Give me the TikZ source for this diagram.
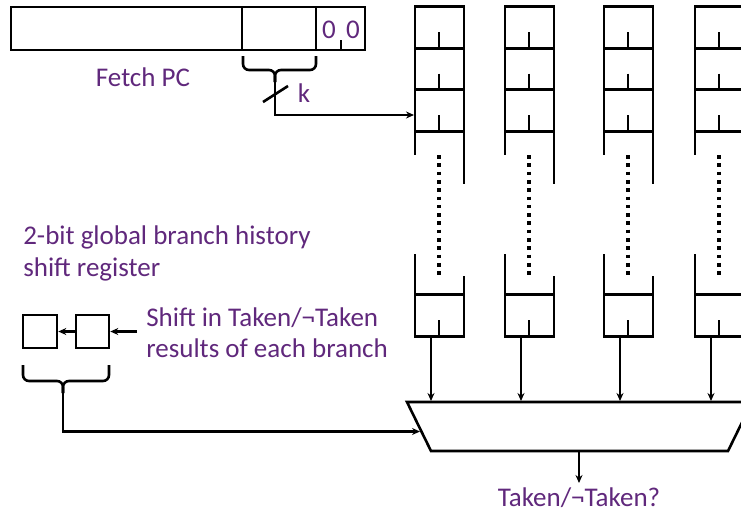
\documentclass[tikz,border=0pt]{standalone}
\usepackage{fontspec}
\setmainfont{Carlito}
\usetikzlibrary{arrows.meta}
\definecolor{txtpurple}{RGB}{96,40,124}
\begin{document}
\begin{tikzpicture}[x=1pt,y=-1pt,
  line width=2.6pt, line join=miter,
  reg/.style={draw, line width=2.6pt, minimum height=43pt, inner sep=0pt},
  cellbox/.style={draw, line width=2.6pt, minimum width=49pt, minimum height=41.5pt, inner sep=0pt},
  hbox/.style={draw, line width=2.6pt, minimum width=33pt, minimum height=33pt, inner sep=0pt},
  lbl/.style={text=txtpurple, font=\fontsize{27}{32}\selectfont, inner sep=0pt},
  arr/.style={-{Stealth[length=8pt,width=7pt]}, line width=2.2pt},
  dots/.style={line width=3.6pt, dash pattern=on 3.6pt off 4.7pt, line cap=butt},
  bracepath/.style={rounded corners=6pt, line width=2.6pt}
]
\useasboundingbox (0,0) rectangle (741,515);
\clip (0,0) rectangle (741,515);

% Fetch PC register
\node[reg, minimum width=354pt] (pc) at (188,28.5) {};
\node[reg, minimum width=74pt] (idx) at (279,28.5) {};
\node[reg, minimum width=49pt] (low) at (340.5,28.5) {};
\draw (341,40) -- (341,50);
\node[lbl] (z1) at (329,30) {0};
\node[lbl] (z2) at (353,30) {0};
\node[lbl] (fpc) at (143,77) {Fetch PC};

% brace under index bits
\draw[bracepath] (243,56) -- (243,70) -- (275,70) -- (275,82);
\draw[bracepath] (316,56) -- (316,70) -- (275,70) -- (275,82);
\coordinate (kb) at (275,78);
\coordinate (kin) at (414,115);
\draw[arr] (kb) |- (kin);
\draw (263,102) -- (288,86);
\node[lbl] (k) at (304,93) {k};

% pattern history table columns
\foreach \i/\L in {1/415,2/505,3/604,4/695}{
  \foreach \r/\yc in {1/27.5,2/69,3/110.5}{
    \node[cellbox] (c\i r\r) at (\L+24.5,\yc) {};
    \draw (\L+24,\yc+4.5) -- (\L+24,\yc+20.75);
  }
  \draw (\L,131) -- (\L,155);
  \draw (\L+49,131) -- (\L+49,184);
  \draw[dots] (\L+24,155) -- (\L+24,275);
  \node[cellbox] (c\i b) at (\L+24.5,315.5) {};
  \draw (\L,295) -- (\L,254);
  \draw (\L+49,295) -- (\L+49,276);
  \draw (\L+24,320) -- (\L+24,336);
  \coordinate (o\i) at (\L+16,336);
  \coordinate (m\i) at (\L+16,401);
  \draw[arr] (o\i) -- (m\i);
}

% mux
\coordinate (mtl) at (407,402);
\coordinate (mtr) at (752,402);
\coordinate (mbr) at (728,451);
\coordinate (mbl) at (431,451);
\draw (mtl) -- (mtr) -- (mbr) -- (mbl) -- cycle;
\coordinate (mout) at (579,451);
\coordinate (mres) at (579,483);
\draw[arr] (mout) -- (mres);
\node[lbl] (res) at (579,498) {Taken/¬Taken?};

% global history register
\node[lbl, anchor=west, align=left] (ghtext) at (22,253) {2-bit global branch history\\shift register};
\node[hbox, minimum width=34pt] (h1) at (40,331.5) {};
\node[hbox] (h2) at (92.5,331.5) {};
\draw[arr] (h2.west) -- (h1.east);
\coordinate (sin) at (137,331.5);
\draw[arr] (sin) -- (h2.east);
\node[lbl, anchor=west, align=left, font=\fontsize{27}{31}\selectfont] (shtext) at (145,332.5) {Shift in Taken/¬Taken\\results of each branch};

% brace under history
\draw[bracepath] (23,365) -- (23,381) -- (63,381) -- (63,393);
\draw[bracepath] (109,365) -- (109,381) -- (63,381) -- (63,393);
\coordinate (gb) at (63,388);
\coordinate (gin) at (420,431.5);
\draw[arr] (gb) |- (gin);
\end{tikzpicture}
\end{document}
